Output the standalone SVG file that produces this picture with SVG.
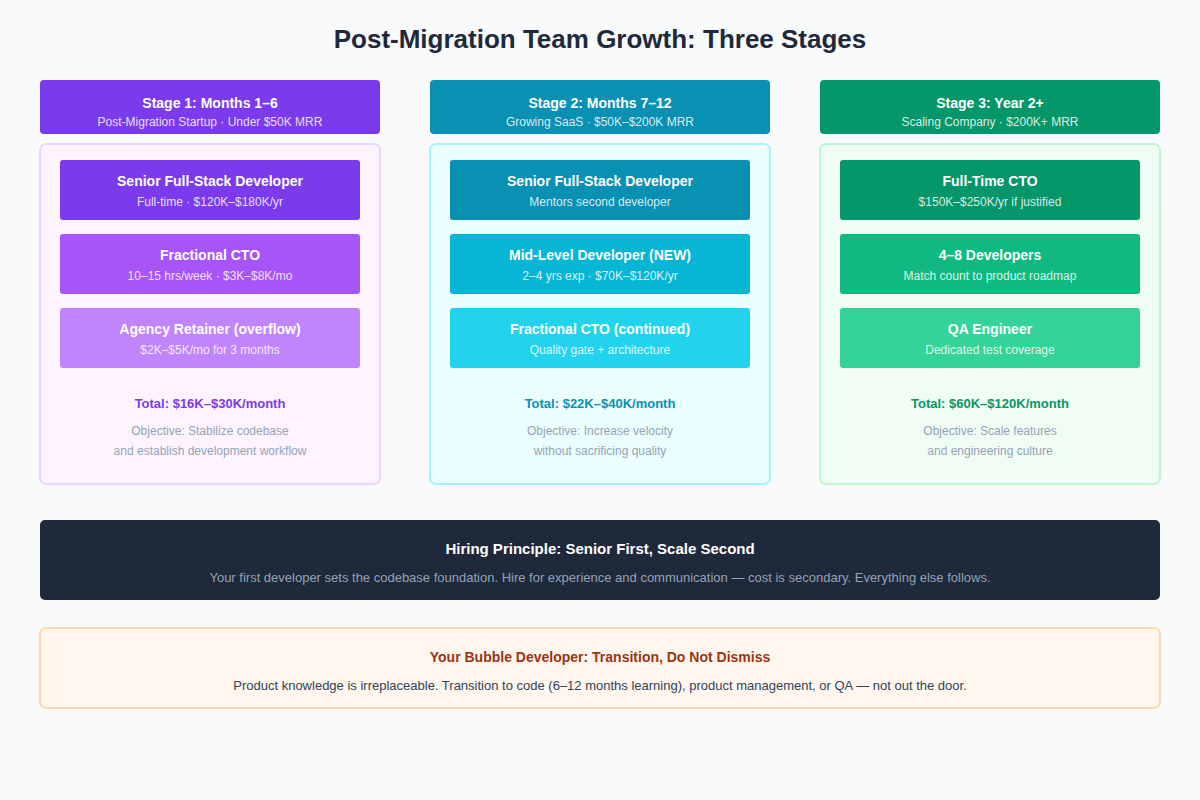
<svg xmlns="http://www.w3.org/2000/svg" width="1200" height="800" viewBox="0 0 1200 800">
<style>
text{font-family:"Liberation Sans",Arial,sans-serif;text-anchor:middle}
.title{font-size:26px;font-weight:bold;fill:#1e293b}
.hd{font-size:14px;font-weight:bold;fill:#fff}
.hs{font-size:12px;fill:#fff;fill-opacity:.85}
.ct{font-size:14px;font-weight:bold;fill:#fff}
.cs{font-size:12px;fill:#fff;fill-opacity:.85}
.tot{font-size:13px;font-weight:bold}
.obj{font-size:12px;fill:#94a3b8}
</style>
<rect width="1200" height="800" fill="#f8fafc"/>
<text x="600" y="48" class="title">Post-Migration Team Growth: Three Stages</text>
<g id="stage1">
<rect x="40" y="80" width="340" height="54" rx="4" fill="#7c3aed"/>
<text x="210" y="108" class="hd">Stage 1: Months 1–6</text>
<text x="210" y="126" class="hs">Post-Migration Startup · Under $50K MRR</text>
<rect x="40" y="144" width="340" height="340" rx="6" fill="#fdf4ff" stroke="#e9d5ff" stroke-width="2"/>
<rect x="60" y="160" width="300" height="60" rx="3" fill="#7c3aed"/>
<text x="210" y="186" class="ct">Senior Full-Stack Developer</text>
<text x="210" y="206" class="cs">Full-time · $120K–$180K/yr</text>
<rect x="60" y="234" width="300" height="60" rx="3" fill="#a855f7"/>
<text x="210" y="260" class="ct">Fractional CTO</text>
<text x="210" y="280" class="cs">10–15 hrs/week · $3K–$8K/mo</text>
<rect x="60" y="308" width="300" height="60" rx="3" fill="#c084fc"/>
<text x="210" y="334" class="ct">Agency Retainer (overflow)</text>
<text x="210" y="354" class="cs">$2K–$5K/mo for 3 months</text>
<text x="210" y="408" class="tot" fill="#7c3aed">Total: $16K–$30K/month</text>
<text x="210" y="435" class="obj">Objective: Stabilize codebase</text>
<text x="210" y="455" class="obj">and establish development workflow</text>
</g>
<g id="stage2">
<rect x="430" y="80" width="340" height="54" rx="4" fill="#0891b2"/>
<text x="600" y="108" class="hd">Stage 2: Months 7–12</text>
<text x="600" y="126" class="hs">Growing SaaS · $50K–$200K MRR</text>
<rect x="430" y="144" width="340" height="340" rx="6" fill="#ecfeff" stroke="#a5f3fc" stroke-width="2"/>
<rect x="450" y="160" width="300" height="60" rx="3" fill="#0891b2"/>
<text x="600" y="186" class="ct">Senior Full-Stack Developer</text>
<text x="600" y="206" class="cs">Mentors second developer</text>
<rect x="450" y="234" width="300" height="60" rx="3" fill="#06b6d4"/>
<text x="600" y="260" class="ct">Mid-Level Developer (NEW)</text>
<text x="600" y="280" class="cs">2–4 yrs exp · $70K–$120K/yr</text>
<rect x="450" y="308" width="300" height="60" rx="3" fill="#22d3ee"/>
<text x="600" y="334" class="ct">Fractional CTO (continued)</text>
<text x="600" y="354" class="cs">Quality gate + architecture</text>
<text x="600" y="408" class="tot" fill="#0891b2">Total: $22K–$40K/month</text>
<text x="600" y="435" class="obj">Objective: Increase velocity</text>
<text x="600" y="455" class="obj">without sacrificing quality</text>
</g>
<g id="stage3">
<rect x="820" y="80" width="340" height="54" rx="4" fill="#059669"/>
<text x="990" y="108" class="hd">Stage 3: Year 2+</text>
<text x="990" y="126" class="hs">Scaling Company · $200K+ MRR</text>
<rect x="820" y="144" width="340" height="340" rx="6" fill="#f0fdf4" stroke="#bbf7d0" stroke-width="2"/>
<rect x="840" y="160" width="300" height="60" rx="3" fill="#059669"/>
<text x="990" y="186" class="ct">Full-Time CTO</text>
<text x="990" y="206" class="cs">$150K–$250K/yr if justified</text>
<rect x="840" y="234" width="300" height="60" rx="3" fill="#10b981"/>
<text x="990" y="260" class="ct">4–8 Developers</text>
<text x="990" y="280" class="cs">Match count to product roadmap</text>
<rect x="840" y="308" width="300" height="60" rx="3" fill="#34d399"/>
<text x="990" y="334" class="ct">QA Engineer</text>
<text x="990" y="354" class="cs">Dedicated test coverage</text>
<text x="990" y="408" class="tot" fill="#059669">Total: $60K–$120K/month</text>
<text x="990" y="435" class="obj">Objective: Scale features</text>
<text x="990" y="455" class="obj">and engineering culture</text>
</g>
<g id="principle">
<rect x="40" y="520" width="1120" height="80" rx="5" fill="#1e293b"/>
<text x="600" y="554" font-size="15" font-weight="bold" fill="#fff">Hiring Principle: Senior First, Scale Second</text>
<text x="600" y="582" font-size="13" fill="#94a3b8">Your first developer sets the codebase foundation. Hire for experience and communication — cost is secondary. Everything else follows.</text>
</g>
<g id="bubble">
<rect x="40" y="628" width="1120" height="80" rx="6" fill="#fff7ed" stroke="#fed7aa" stroke-width="2"/>
<text x="600" y="662" font-size="14" font-weight="bold" fill="#9a3412">Your Bubble Developer: Transition, Do Not Dismiss</text>
<text x="600" y="690" font-size="13" fill="#334155">Product knowledge is irreplaceable. Transition to code (6–12 months learning), product management, or QA — not out the door.</text>
</g>
<g id="connectors"></g>
</svg>
